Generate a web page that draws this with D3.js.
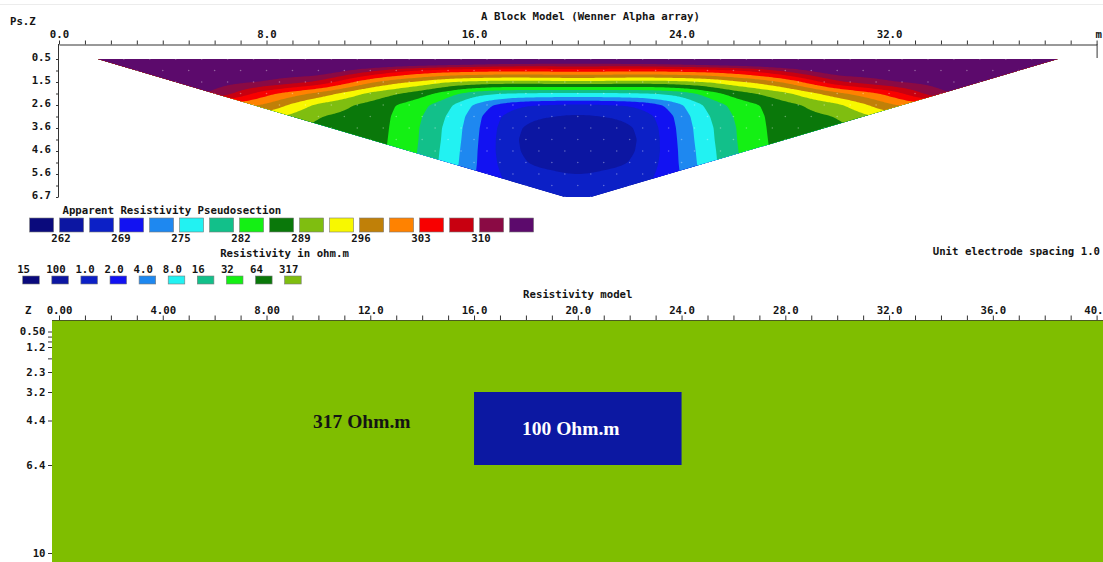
<!DOCTYPE html>
<html><head><meta charset="utf-8">
<script src="https://cdn.jsdelivr.net/npm/d3@7"></script>
<style>
body{margin:0;background:#fff}
svg{display:block}
text{font-family:"DejaVu Sans Mono","Liberation Mono",monospace;font-weight:bold;font-size:10.7px;fill:#141414}
.serif{font-family:"Liberation Serif","Times New Roman",serif;font-weight:bold;font-size:19.5px}
</style></head><body>
<svg id="c" width="1103" height="562"></svg>
<script>
// ---------------- DATA ----------------
// Apparent resistivity pseudosection (ohm.m), rows = data levels 1..13, columns = x positions (m)
const psColumns = [0, 3, 6, 8, 10, 12, 13, 14, 15, 16, 17, 18, 20, 22, 23, 24, 25, 26, 27, 28, 30, 32, 34, 37, 40];
const psLevels = [1, 2, 3, 4, 5, 6, 7, 8, 9, 10, 11, 12, 13];
const psRow1  = [315.5,315.5,316,316.5,319,324,324,324,323,322,321,320.5,320,320.5,321,322,323,324,324,324,319,316.5,316,315.5,315.5];
const psRow2  = [315.5,315.5,315.8,316,317,311,308,306,305,304.5,304,304,304.5,304,304,304.5,305,306,308,311,317,316,315.8,315.5,315.5];
const psRow3  = [315.5,315.5,315,313.3,309.5,300,297,295,292.5,291.5,291,291,291.5,291,291,291.5,292.5,295,297,300,309.5,313.3,315,315.5,315.5];
const psRow4  = [315,315,313.3,304,298.5,291.5,289.3,287,283.5,280,278.5,278,277.8,278,278.5,280,283.5,287,289.3,291.5,298.5,304,313.3,315,315];
const psRow5  = [310,310,303,299,291.5,287.8,285.5,283,279.5,274.5,271,269.2,268.3,269.2,271,274.5,279.5,283,285.5,287.8,291.5,299,303,310,310];
const psRow6  = [303,303,296,294,289,287.5,285,282.2,278.2,273.3,269,266.3,264.8,266.3,269,273.3,278.2,282.2,285,287.5,289,294,296,303,303];
const psRow7  = [296,296,291,291,288,287.4,284.8,281.8,277.5,273,268.4,264.8,262.6,264.8,268.4,273,277.5,281.8,284.8,287.4,288,291,291,296,296];
const psRow8  = [291,291,288,288,287.4,287.2,284.7,281.7,277.3,272.8,268.2,264.3,261.8,264.3,268.2,272.8,277.3,281.7,284.7,287.2,287.4,288,288,291,291];
const psRow9  = [288,288,287.5,287.5,287.3,287,284.6,281.5,277,272.6,268.2,264.6,262.5,264.6,268.2,272.6,277,281.5,284.6,287,287.3,287.5,287.5,288,288];
const psRow10 = [288,288,287.5,287.5,287.2,286.8,284.5,281.3,276.8,272.4,268.5,265.3,263.8,265.3,268.5,272.4,276.8,281.3,284.5,286.8,287.2,287.5,287.5,288,288];
const psRow11 = [288,288,287.5,287.5,287,286.8,284.5,281.2,276.6,272,269,266.6,265.3,266.6,269,272,276.6,281.2,284.5,286.8,287,287.5,287.5,288,288];
const psRow12 = [288,288,287.5,287.5,287,286.8,284.5,281.2,276.5,271.5,269.4,267.8,266.8,267.8,269.4,271.5,276.5,281.2,284.5,286.8,287,287.5,287.5,288,288];
const psRow13 = [288,288,287.5,287.5,287,286.8,284.5,281.2,276.5,271,269.8,268.8,268.3,268.8,269.8,271,276.5,281.2,284.5,286.8,287,287.5,287.5,288,288];
const psRows = [psRow1,psRow2,psRow3,psRow4,psRow5,psRow6,psRow7,psRow8,psRow9,psRow10,psRow11,psRow12,psRow13];

const depthLevelLabels = ["0.5","1.5","2.6","3.6","4.6","5.6","6.7"];   // at levels 1,3,...,13
const legendValues = [262, 269, 275, 282, 289, 296, 303, 310];
const palette = ["#0a0a7c","#0c16a2","#0c20c6","#1212f2","#1e88f0","#22f2f2","#12c08a","#14f014","#0a780a","#7fbe10","#f8f800","#c08008","#ff8200","#f80000","#c80010","#8a0a44","#5c0a6c"];

const modelLegendLabels = ["15","100","1.0","2.0","4.0","8.0","16","32","64","317"];
const modelXTicks = [0,1,2,3,4,5,6,7,8,9,10,11,12,13,14,15,16,17,18,19,20,21,22,23,24,25,26,27,28,29,30,31,32,33,34,35,36,37,38,39,40];
const modelDepthTicks = [0.5, 0.73, 0.95, 1.2, 1.7, 2.3, 3.2, 4.4, 6.4, 10];
const modelDepthLabels = {0.5:"0.50",1.2:"1.2",2.3:"2.3",3.2:"3.2",4.4:"4.4",6.4:"6.4",10:"10"};
const depthScaleDomain = [0, 0.5, 1.2, 2.3, 3.2, 4.4, 6.4, 10];
const backgroundRes = 317, blockRes = 100;
const blockX = [16, 24], blockDepth = [3.2, 6.4];

// ---------------- CHART ----------------
const svg = d3.select('#c');
svg.append('rect').attr('width',1103).attr('height',562).attr('fill','#fff');
svg.append('line').attr('x1',0).attr('x2',1103).attr('y1',4.5).attr('y2',4.5).attr('stroke','#ececec');

const x = d3.scaleLinear().domain([0,40]).range([59,1096.6]);
const yL = d3.scaleLinear().domain([1,13]).range([59,197]);

// thresholds between legend colours
const thresholds = [];
legendValues.forEach((v,i)=>{ thresholds.push(v); if(i<legendValues.length-1) thresholds.push((v+legendValues[i+1])/2); });
thresholds.push(legendValues[7] + (legendValues[7]-legendValues[6])/2);

// resample field onto a fine grid (bilinear), then light smoothing
const dx=0.1, dl=0.05;
const nx=Math.round(40/dx)+1, ny=Math.round(12/dl)+1;
function interp(xv, lv){
  let i = d3.bisectRight(psColumns, xv)-1; i=Math.max(0,Math.min(psColumns.length-2,i));
  let j = d3.bisectRight(psLevels, lv)-1; j=Math.max(0,Math.min(psLevels.length-2,j));
  const tx=(xv-psColumns[i])/(psColumns[i+1]-psColumns[i]);
  const ty=(lv-psLevels[j])/(psLevels[j+1]-psLevels[j]);
  const a=psRows[j][i]*(1-tx)+psRows[j][i+1]*tx, b=psRows[j+1][i]*(1-tx)+psRows[j+1][i+1]*tx;
  return a*(1-ty)+b*ty;
}
let grid=new Float64Array(nx*ny);
for(let jy=0;jy<ny;jy++) for(let ix=0;ix<nx;ix++) grid[jy*nx+ix]=interp(ix*dx, 1+jy*dl);
function boxBlur(src,w,h,rx,ry){
  let a=Float64Array.from(src), b=new Float64Array(w*h);
  for(let j=0;j<h;j++) for(let i=0;i<w;i++){ let s=0; for(let k=-rx;k<=rx;k++){ s+=a[j*w+Math.min(w-1,Math.max(0,i+k))]; } b[j*w+i]=s/(2*rx+1); }
  for(let j=0;j<h;j++) for(let i=0;i<w;i++){ let s=0; for(let k=-ry;k<=ry;k++){ s+=b[Math.min(h-1,Math.max(0,j+k))*w+i]; } a[j*w+i]=s/(2*ry+1); }
  return a;
}
grid=boxBlur(boxBlur(grid,nx,ny,4,2),nx,ny,4,2);
const contours=d3.contours().size([nx,ny]).thresholds(thresholds)(grid);
const proj=d3.geoTransform({point(px,py){ this.stream.point(x((px-0.5)*dx), yL(1+(py-0.5)*dl)); }});
const path=d3.geoPath(proj);

const clipPts=[[1.5,1],[38.5,1],[20.5,13],[19.5,13]].map(p=>[x(p[0]),yL(p[1])]);
svg.append('clipPath').attr('id','tri').append('path').attr('d','M'+clipPts.join('L')+'Z');
const ps=svg.append('g').attr('clip-path','url(#tri)');
ps.append('path').attr('d','M'+clipPts.join('L')+'Z').attr('fill',palette[0]);
ps.selectAll('path.band').data(contours).join('path').attr('class','band')
  .attr('d',path).attr('fill',(d,i)=>palette[i+1]);
// data point dots
const pts=[];
psLevels.forEach(a=>{ for(let k=0;k<=40-3*a;k++) pts.push([1.5*a+k,a]); });
ps.selectAll('circle').data(pts).join('circle').attr('cx',d=>x(d[0])).attr('cy',d=>yL(d[1]))
  .attr('r',0.8).attr('fill','rgba(255,255,255,0.35)');

// top axis
const topAx=d3.axisTop(x).tickValues(modelXTicks).tickSize(4).tickPadding(3).tickSizeOuter(0)
  .tickFormat(v=> v%8===0 && v<40 ? v.toFixed(1) : '');
const gt=svg.append('g').attr('transform','translate(0,44.5)').call(topAx);
gt.select('.domain').attr('stroke','#333');
gt.selectAll('.tick line').attr('stroke','#333');
gt.selectAll('text').style('font-size','10.7px').attr('fill','#141414');
svg.append('text').attr('x',x(40)-1).attr('y',37.5).text('m');
svg.append('line').attr('x1',x(40)+0.5).attr('x2',x(40)+0.5).attr('y1',44).attr('y2',58).attr('stroke','#333');

// left axis pseudosection
const leftAx=d3.axisLeft(yL).tickValues(psLevels).tickSize(2.5).tickPadding(5).tickSizeOuter(0)
  .tickFormat(v=> v%2===1 ? depthLevelLabels[(v-1)/2] : '');
const gl=svg.append('g').attr('transform','translate(58.5,0)').call(leftAx);
gl.select('.domain').remove();
gl.selectAll('.tick line').attr('stroke','#333');
gl.selectAll('text').attr('dy','0.1em').style('font-size','10.7px').attr('fill','#141414');
svg.append('line').attr('x1',58.5).attr('x2',58.5).attr('y1',44).attr('y2',197).attr('stroke','#333');

// texts
svg.append('text').attr('x',10).attr('y',24.5).text('Ps.Z');
svg.append('text').attr('x',590.5).attr('y',19.5).attr('text-anchor','middle').text('A Block Model (Wenner Alpha array)');
svg.append('text').attr('x',62.5).attr('y',214).text('Apparent Resistivity Pseudosection');
svg.append('text').attr('x',284.5).attr('y',257).attr('text-anchor','middle').text('Resistivity in ohm.m');
svg.append('text').attr('x',1100).attr('y',255).attr('text-anchor','end').text('Unit electrode spacing 1.0');

// legend 1
const lg=svg.append('g');
lg.selectAll('rect').data(palette).join('rect')
  .attr('x',(d,i)=>29.6+30*i).attr('y',218).attr('width',24).attr('height',14)
  .attr('fill',d=>d).attr('stroke','#7a7a7a').attr('stroke-width',0.6);
lg.selectAll('text').data(legendValues).join('text')
  .attr('x',(d,i)=>61+60*i).attr('y',242).attr('text-anchor','middle').text(d=>d);

// legend 2
const lg2=svg.append('g');
lg2.selectAll('rect').data(modelLegendLabels).join('rect')
  .attr('x',(d,i)=>22.7+29.1*i).attr('y',276).attr('width',16.6).attr('height',8)
  .attr('fill',(d,i)=>palette[i]).attr('stroke','#7a7a7a').attr('stroke-width',0.6);
lg2.selectAll('text').data(modelLegendLabels).join('text')
  .attr('x',(d,i)=>22.7+29.1*i-5.5).attr('y',272.5).text(d=>d);

// model section
const yD=d3.scaleLinear().domain(depthScaleDomain).range([320,331.5,347,372,392,420.5,465,553]);
svg.append('rect').attr('x',x(0)-7).attr('y',yD(0)+0.5).attr('width',1103-(x(0)-7)).attr('height',562-yD(0))
  .attr('fill','#7fbe00').datum(backgroundRes);
svg.append('rect').attr('x',x(blockX[0])).attr('y',yD(blockDepth[0])).attr('width',x(blockX[1])-x(blockX[0]))
  .attr('height',yD(blockDepth[1])-yD(blockDepth[0])).attr('fill','#0c18a2').datum(blockRes);
svg.append('text').attr('class','serif').attr('x',313).attr('y',428).text(backgroundRes+' Ohm.m');
svg.append('text').attr('class','serif').attr('x',522).attr('y',435).style('fill','#fff').text(blockRes+' Ohm.m');

svg.append('text').attr('x',x(20)).attr('y',298).attr('text-anchor','middle').text('Resistivity model');
svg.append('text').attr('x',25).attr('y',314).text('Z');
const mAx=d3.axisTop(x).tickValues(modelXTicks).tickSize(5).tickPadding(1.5).tickSizeOuter(0)
  .tickFormat(v=> v%4===0 ? (v<12 ? v.toFixed(2) : v.toFixed(1)) : '');
const gm=svg.append('g').attr('transform','translate(0,320.5)').call(mAx);
gm.select('.domain').remove();
gm.selectAll('.tick line').attr('stroke','#333');
gm.selectAll('text').style('font-size','10.7px').attr('fill','#141414');
svg.append('line').attr('x1',x(0)-7).attr('x2',1103).attr('y1',320.5).attr('y2',320.5).attr('stroke','#4a5a20');

const dAx=d3.axisLeft(yD).tickValues(modelDepthTicks).tickSize(4).tickPadding(2.5)
  .tickFormat(v=> modelDepthLabels[v] || '');
const gd=svg.append('g').attr('transform','translate('+(x(0)-7)+',0)').call(dAx);
gd.select('.domain').remove();
gd.selectAll('.tick line').attr('stroke','#333');
gd.selectAll('text').style('font-size','10.7px').attr('fill','#141414');
</script></body></html>
